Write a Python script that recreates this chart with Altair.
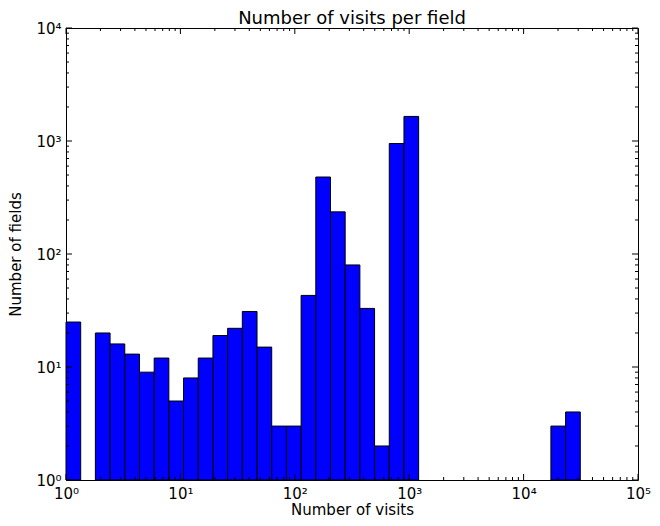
import numpy as np
import pandas as pd
import altair as alt

# ---- data ----
N_BINS = 35
MAX_VISITS = 31300
counts = [25, 0, 20, 16, 13, 9, 12, 5, 8, 12, 19, 22, 31, 15, 3, 3, 43, 480, 236, 80,
          33, 2, 950, 1650, 0, 0, 0, 0, 0, 0, 0, 0, 0, 3, 4]
x_major = [1, 10, 100, 1000, 10000, 100000]
y_major = [1, 10, 100, 1000, 10000]
x_minor = [m * 10 ** k for k in range(5) for m in range(2, 10)]
y_minor = [m * 10 ** k for k in range(4) for m in range(2, 10)]

edges = np.logspace(0, np.log10(MAX_VISITS), N_BINS + 1)
bars = pd.DataFrame({"lo": edges[:-1], "hi": edges[1:], "count": counts, "base": 1})
bars = bars[bars["count"] > 0]

W, H = 572, 452
FONT = "DejaVu Sans"
FS = 15
xs = alt.Scale(type="log", domain=[1, 100000], nice=False)
ys = alt.Scale(type="log", domain=[1, 10000], nice=False)
sup = "['\u2070','\u00b9','\u00b2','\u00b3','\u2074','\u2075'][round(log(datum.value)/LN10)]"

xaxis = alt.Axis(values=x_major, labelExpr="'10' + " + sup, ticks=False, tickSize=0,
                 domain=False, grid=False, labelFont=FONT, labelFontSize=FS, labelColor="black",
                 labelFlush=False, labelOverlap=False, labelPadding=6,
                 title="Number of visits", titleFont=FONT, titleFontSize=FS,
                 titleFontWeight="normal", titleColor="black", titlePadding=1)
yaxis = alt.Axis(values=y_major, labelExpr="'10' + " + sup, ticks=False, tickSize=0,
                 domain=False, grid=False, labelFont=FONT, labelFontSize=FS, labelColor="black",
                 labelFlush=False, labelOverlap=False, labelPadding=5,
                 title="Number of fields", titleFont=FONT, titleFontSize=FS,
                 titleFontWeight="normal", titleColor="black", titlePadding=12)

bar_layer = alt.Chart(bars).mark_bar(color="#0000ff", stroke="black", strokeWidth=1).encode(
    x=alt.X("lo:Q", scale=xs, axis=xaxis),
    x2="hi:Q",
    y=alt.Y("count:Q", scale=ys, axis=yaxis),
    y2="base:Q",
)


def xticks(vals, length):
    d = pd.DataFrame({"v": vals})
    b = alt.Chart(d).mark_rule(color="black", strokeWidth=1).encode(
        x=alt.X("v:Q", scale=xs, axis=xaxis), y=alt.value(H), y2=alt.value(H - length))
    t = alt.Chart(d).mark_rule(color="black", strokeWidth=1).encode(
        x=alt.X("v:Q", scale=xs, axis=xaxis), y=alt.value(0), y2=alt.value(length))
    return [b, t]


def yticks(vals, length):
    d = pd.DataFrame({"v": vals})
    l = alt.Chart(d).mark_rule(color="black", strokeWidth=1).encode(
        y=alt.Y("v:Q", scale=ys, axis=yaxis), x=alt.value(0), x2=alt.value(length))
    r = alt.Chart(d).mark_rule(color="black", strokeWidth=1).encode(
        y=alt.Y("v:Q", scale=ys, axis=yaxis), x=alt.value(W), x2=alt.value(W - length))
    return [l, r]


layers = [bar_layer] + xticks(x_major, 6) + xticks(x_minor, 3) + yticks(y_major, 6) + yticks(y_minor, 3)

chart = alt.layer(*layers).properties(
    width=W, height=H,
    title=alt.TitleParams("Number of visits per field", font=FONT, fontSize=18,
                          fontWeight="normal", color="black", offset=-7),
    padding={"left": 0, "top": 2, "right": 0, "bottom": 0},
    background="white",
).configure_view(stroke="black", strokeWidth=1)

chart.save("out.html", embed_options={"renderer": "svg", "actions": False})
